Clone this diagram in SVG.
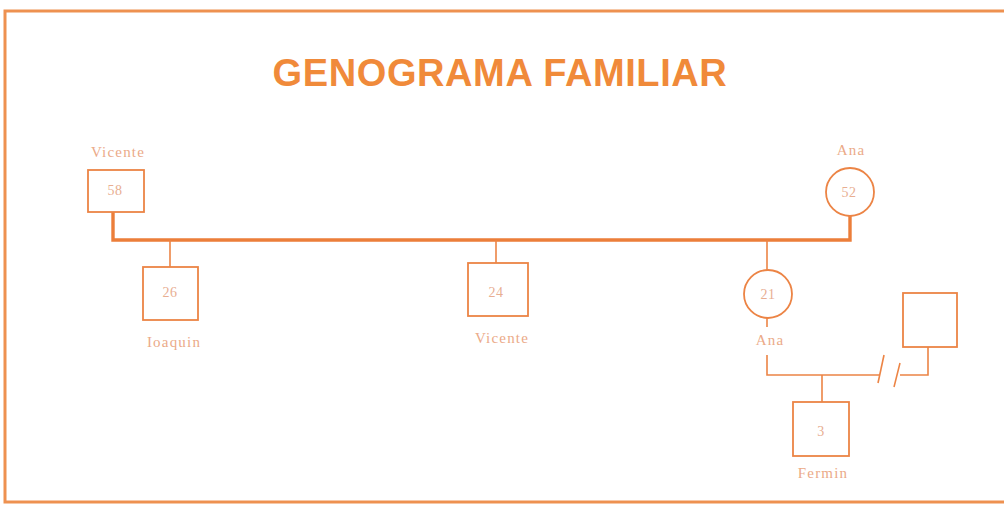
<svg xmlns="http://www.w3.org/2000/svg" width="1004" height="506" viewBox="0 0 1004 506">
  <style>
    .frame { fill: none; stroke: #EE9150; stroke-width: 3; }
    .title { font-family: "Liberation Sans", Arial, sans-serif; font-weight: bold; font-size: 38px; letter-spacing: 0.6px; fill: #F08A3A; }
    .sym { fill: #ffffff; stroke: #EC8445; stroke-width: 1.8; }
    .line { fill: none; stroke: #EC8445; stroke-width: 1.6; }
    .couple { fill: none; stroke: #EC7E3A; stroke-width: 3.4; }
    .name { font-family: "Liberation Serif", "Times New Roman", serif; font-size: 15px; letter-spacing: 1.2px; fill: #EBAA88; text-anchor: middle; }
    .age { font-family: "Liberation Serif", "Times New Roman", serif; font-size: 14px; letter-spacing: 0.5px; fill: #E8AE92; text-anchor: middle; }
  </style>

  <rect class="frame" x="5" y="11" width="1010" height="491"/>
  <text class="title" x="500" y="86" text-anchor="middle">GENOGRAMA FAMILIAR</text>

  <g id="connectors">
    <!-- parents' union line -->
    <polyline class="couple" points="113,212 113,240 850,240 850,216"/>
    <!-- descent lines to the children -->
    <line class="line" x1="170" y1="240" x2="170" y2="267"/>
    <line class="line" x1="496" y1="240" x2="496" y2="263"/>
    <line class="line" x1="767" y1="240" x2="767" y2="271"/>
    <line class="line" x1="767" y1="318" x2="767" y2="327"/>
    <!-- separated union of Ana (21) -->
    <polyline class="line" points="767,355 767,375 879,375"/>
    <line class="line" x1="878" y1="383" x2="884" y2="355"/>
    <line class="line" x1="894" y1="387" x2="900" y2="363"/>
    <polyline class="line" points="900,375 928,375 928,347"/>
    <line class="line" x1="822" y1="375" x2="822" y2="402"/>
  </g>

  <g id="vicente-58">
    <text class="name" x="118" y="157">Vicente</text>
    <rect class="sym" x="88" y="170" width="56" height="42"/>
    <text class="age" x="115" y="195">58</text>
  </g>

  <g id="ana-52">
    <text class="name" x="851" y="155">Ana</text>
    <circle class="sym" cx="850" cy="192" r="24"/>
    <text class="age" x="849" y="197">52</text>
  </g>

  <g id="joaquin-26">
    <rect class="sym" x="143" y="267" width="55" height="53"/>
    <text class="age" x="170" y="297">26</text>
    <text class="name" x="174" y="347">Ioaquin</text>
  </g>

  <g id="vicente-24">
    <rect class="sym" x="468" y="263" width="60" height="53"/>
    <text class="age" x="496" y="297">24</text>
    <text class="name" x="502" y="343">Vicente</text>
  </g>

  <g id="ana-21">
    <circle class="sym" cx="768" cy="294" r="24"/>
    <text class="age" x="768" y="299">21</text>
    <text class="name" x="770" y="345">Ana</text>
  </g>

  <g id="partner">
    <rect class="sym" x="903" y="293" width="54" height="54"/>
  </g>

  <g id="fermin-3">
    <rect class="sym" x="793" y="402" width="56" height="54"/>
    <text class="age" x="821" y="436">3</text>
    <text class="name" x="823" y="478">Fermin</text>
  </g>
</svg>
